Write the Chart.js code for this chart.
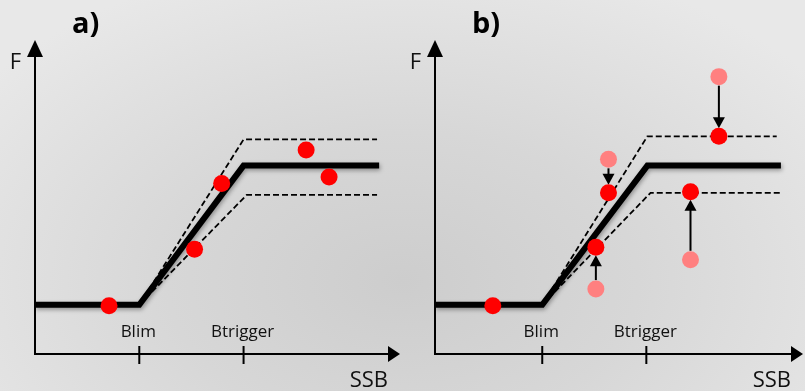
<!DOCTYPE html>
<html>
<head>
<meta charset="utf-8">
<script src="https://cdn.jsdelivr.net/npm/chart.js@4.4.1/dist/chart.umd.min.js"></script>
<style>
  html, body { margin: 0; padding: 0; }
  body {
    width: 805px; height: 391px; overflow: hidden; position: relative;
    background: radial-gradient(ellipse 65% 85% at 50% 72%, #cdcdcd 0%, #d7d7d7 45%, #e8e8e8 100%);
  }
  .panel { position: absolute; top: 0; }
  #panelA { left: 0; }
  #panelB { left: 400px; }
</style>
</head>
<body>
<div class="panel" id="panelA"><canvas id="chartA" width="402" height="391"></canvas></div>
<div class="panel" id="panelB"><canvas id="chartB" width="405" height="391"></canvas></div>
<script>
// axis marks
const tickLabels = ["Blim", "Btrigger"];
const ticksA = [10, 20];
const ticksB = [10.2, 20.1];

// panel a) harvest control rule and its bounds
const hcrA_X = [0, 10, 20, 33];
const hcrA_F = [4.7, 4.7, 18.0, 18.0];
const upperA_X = [10, 20, 32.8];
const upperA_F = [4.7, 20.5, 20.5];
const lowerA_X = [10, 20.3, 32.8];
const lowerA_F = [4.7, 15.2, 15.2];
const obsA_X = [7.1, 17.9, 15.3, 26.0, 28.2];
const obsA_F = [4.6, 16.3, 10.0, 19.5, 16.9];

// panel b) same rule, observations pulled back inside the bounds
const hcrB_X = [0, 10.2, 20.2, 32.9];
const hcrB_F = [4.7, 4.7, 18.0, 18.0];
const upperB_X = [10.2, 20.2, 32.5];
const upperB_F = [4.7, 20.8, 20.8];
const lowerB_X = [10.2, 20.5, 32.8];
const lowerB_F = [4.7, 15.4, 15.4];
const obsB_X = [5.5, 16.5, 15.3, 27.0, 24.3];
const obsB_F = [4.6, 15.4, 10.2, 20.8, 15.5];
const origB_X = [16.5, 15.3, 27.0, 24.3];
const origB_F = [18.6, 6.2, 26.5, 9.0];
const movedB_F = [15.4, 10.2, 20.8, 15.5];

const pts = (xs, ys) => xs.map((v, i) => ({ x: v, y: ys[i] }));

const axesPlugin = {
  id: 'hcrAxes',
  beforeDatasetsDraw(chart, args, opts) {
    const { ctx, scales: { x, y } } = chart;
    const x0 = x.getPixelForValue(0), y0 = y.getPixelForValue(0);
    const xEnd = x.getPixelForValue(x.max), yEnd = y.getPixelForValue(y.max);
    ctx.save();
    ctx.strokeStyle = '#000';
    ctx.fillStyle = '#000';
    ctx.lineWidth = 2;

    // y axis + arrow
    ctx.beginPath(); ctx.moveTo(x0, y0 + 1); ctx.lineTo(x0, yEnd + 12); ctx.stroke();
    ctx.beginPath(); ctx.moveTo(x0, yEnd); ctx.lineTo(x0 - 8, yEnd + 17); ctx.lineTo(x0 + 8, yEnd + 17); ctx.closePath(); ctx.fill();
    // x axis + arrow
    ctx.beginPath(); ctx.moveTo(x0 - 1, y0); ctx.lineTo(xEnd - 8, y0); ctx.stroke();
    ctx.beginPath(); ctx.moveTo(xEnd, y0); ctx.lineTo(xEnd - 12, y0 - 8); ctx.lineTo(xEnd - 12, y0 + 8); ctx.closePath(); ctx.fill();

    // Blim / Btrigger ticks
    ctx.font = '17px "Open Sans"';
    ctx.textAlign = 'center';
    ctx.textBaseline = 'alphabetic';
    opts.ticks.forEach((v, i) => {
      const px = x.getPixelForValue(v);
      ctx.beginPath(); ctx.moveTo(px, y0 - 8); ctx.lineTo(px, y0 + 10); ctx.stroke();
      ctx.fillStyle = '#111';
      ctx.fillText(tickLabels[i], px - 1, y0 - 17);
    });

    // axis titles
    ctx.fillStyle = '#111';
    ctx.font = '22px "Open Sans"';
    ctx.textAlign = 'right';
    ctx.fillText('F', x0 - 14, yEnd + 29);
    ctx.fillText('SSB', xEnd - 12, y0 + 33);

    // panel letter
    ctx.fillStyle = '#000';
    ctx.font = 'bold 29px "Open Sans"';
    ctx.textAlign = 'left';
    ctx.fillText(opts.label, x0 + 37, yEnd - 7);

    // arrows from original to adjusted estimates
    (opts.arrows || []).forEach(a => {
      const px = x.getPixelForValue(a.x);
      const p1 = y.getPixelForValue(a.from), p2 = y.getPixelForValue(a.to);
      const d = Math.sign(p2 - p1);
      const s = p1 + d * 9, e = p2 - d * 8;
      ctx.lineWidth = 2;
      ctx.beginPath(); ctx.moveTo(px, s); ctx.lineTo(px, e - d * 9); ctx.stroke();
      ctx.beginPath(); ctx.moveTo(px, e); ctx.lineTo(px - 6, e - d * 11); ctx.lineTo(px + 6, e - d * 11); ctx.closePath(); ctx.fill();
    });
    ctx.restore();
  },
  // soft shadow under the thick rule line
  beforeDatasetDraw(chart, args) {
    if (!args.meta._dataset.shadow) return;
    const ctx = chart.ctx;
    ctx.save();
    ctx.shadowColor = 'rgba(0,0,0,0.35)';
    ctx.shadowBlur = 4;
    ctx.shadowOffsetX = 1;
    ctx.shadowOffsetY = 2;
  },
  afterDatasetDraw(chart, args) {
    if (args.meta._dataset.shadow) chart.ctx.restore();
  }
};

function ruleSets(hx, hf, ux, uf, lx, lf) {
  const dashed = { showLine: true, pointRadius: 0, borderColor: '#000', borderWidth: 1.8, borderDash: [6, 3], order: 3 };
  return [
    { ...dashed, data: pts(ux, uf) },
    { ...dashed, data: pts(lx, lf) },
    { data: pts(hx, hf), showLine: true, pointRadius: 0, borderColor: '#000', borderWidth: 6,
      borderJoinStyle: 'miter', borderCapStyle: 'butt', order: 2, shadow: true }
  ];
}

function makeChart(id, datasets, pluginOpts) {
  return new Chart(document.getElementById(id), {
    type: 'scatter',
    data: { datasets },
    options: {
      responsive: false,
      animation: false,
      layout: { autoPadding: false, padding: { left: 35, right: 2, top: 40, bottom: 37 } },
      plugins: { legend: { display: false }, tooltip: { enabled: false }, hcrAxes: pluginOpts },
      scales: {
        x: { type: 'linear', min: 0, max: 35, display: false },
        y: { type: 'linear', min: 0, max: 30, display: false }
      }
    },
    plugins: [axesPlugin]
  });
}

makeChart('chartA', [
  ...ruleSets(hcrA_X, hcrA_F, upperA_X, upperA_F, lowerA_X, lowerA_F),
  { data: pts(obsA_X, obsA_F), pointRadius: 8.5, backgroundColor: '#ff0000', borderWidth: 0, order: 0 }
], { label: 'a)', ticks: ticksA });

makeChart('chartB', [
  ...ruleSets(hcrB_X, hcrB_F, upperB_X, upperB_F, lowerB_X, lowerB_F),
  { data: pts(origB_X, origB_F), pointRadius: 8.5, backgroundColor: '#ff8080', borderWidth: 0, order: 1 },
  { data: pts(obsB_X, obsB_F), pointRadius: 8.5, backgroundColor: '#ff0000', borderWidth: 0, order: 0 }
], {
  label: 'b)', ticks: ticksB,
  arrows: origB_X.map((v, i) => ({ x: v, from: origB_F[i], to: movedB_F[i] }))
});
</script>
</body>
</html>
